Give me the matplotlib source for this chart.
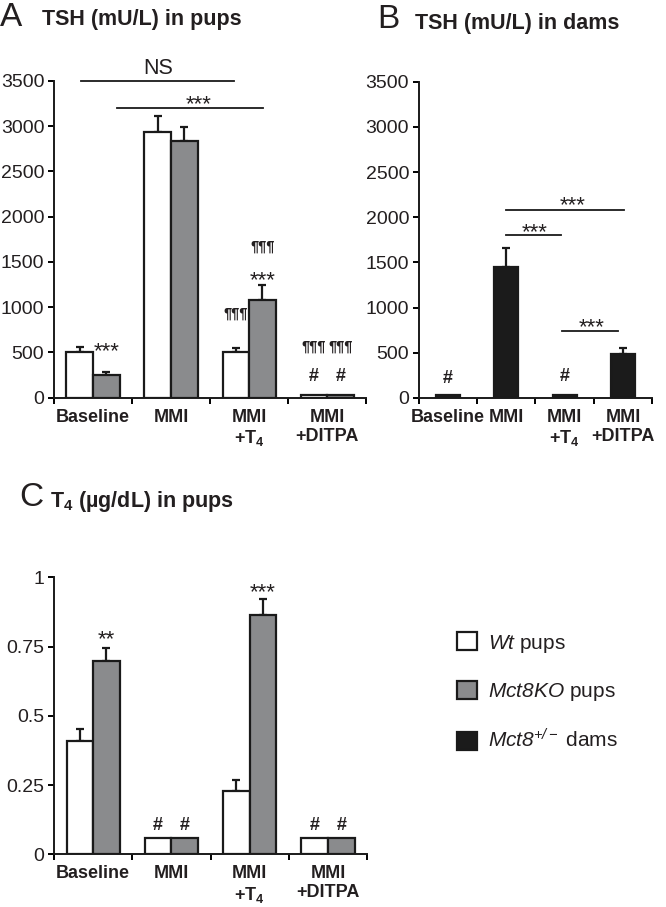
import matplotlib
matplotlib.use('Agg')
import matplotlib.pyplot as plt
import numpy as np
from matplotlib.patches import Patch

plt.rcParams['font.family'] = ['Liberation Sans', 'DejaVu Sans']
plt.rcParams['mathtext.fontset'] = 'custom'
plt.rcParams['mathtext.rm'] = 'Liberation Sans'
plt.rcParams['mathtext.it'] = 'Liberation Sans:italic'
plt.rcParams['mathtext.sf'] = 'Liberation Sans:italic'
plt.rcParams['mathtext.bf'] = 'Liberation Sans:bold'

categories = ['Baseline', 'MMI', 'MMI\n+T$_\\mathbf{4}$', 'MMI\n+DITPA']

tsh_pups_wt = [500, 2930, 505, 35]
tsh_pups_wt_err = [60, 180, 42, 0]
tsh_pups_ko = [250, 2830, 1080, 35]
tsh_pups_ko_err = [35, 160, 165, 0]

tsh_dams = [30, 1445, 30, 483]
tsh_dams_err = [0, 210, 0, 75]

t4_pups_wt = [0.41, 0.06, 0.228, 0.06]
t4_pups_wt_err = [0.042, 0, 0.04, 0]
t4_pups_ko = [0.697, 0.06, 0.865, 0.06]
t4_pups_ko_err = [0.049, 0, 0.058, 0]

WHITE = '#ffffff'
GRAY = '#8a8b8d'
BLACK = '#1b1b1b'
EDGE = '#1a1a1a'
TXT = '#231f20'


def style_axis(ax, ymax, yticks, yticklabels):
    n = len(categories)
    ax.set_xlim(-0.5, n - 0.5)
    ax.set_ylim(0, ymax)
    for s in ['top', 'right']:
        ax.spines[s].set_visible(False)
    for s in ['left', 'bottom']:
        ax.spines[s].set_linewidth(1.4)
        ax.spines[s].set_color(EDGE)
    ax.set_yticks(yticks)
    ax.set_yticklabels(yticklabels, fontsize=14, color=TXT)
    ax.tick_params(axis='y', direction='out', length=4, width=1.4, pad=3)
    ax.set_xticks(np.arange(n))
    ax.set_xticklabels(categories, fontsize=13, fontweight='bold', color=TXT,
                       linespacing=1.15)
    ax.tick_params(axis='x', which='major', length=0, pad=8)
    ax.set_xticks(np.arange(n + 1) - 0.5, minor=True)
    ax.tick_params(axis='x', which='minor', direction='out', length=4, width=1.4)


def draw_bars(ax, xs, vals, errs, color, width):
    ax.bar(xs, vals, width=width, color=color, edgecolor=EDGE, linewidth=1.6, zorder=3)
    for x, v, e in zip(xs, vals, errs):
        if e > 0:
            ax.errorbar([x], [v], yerr=[[0], [e]], fmt='none', ecolor=EDGE,
                        elinewidth=1.6, capsize=3, capthick=1.6, zorder=2)


def note(ax, x, y, s, size=11, weight='normal'):
    ax.text(x, y, s, ha='center', va='baseline', fontsize=size, fontweight=weight,
            color=TXT, clip_on=False)


def bracket(ax, x0, x1, y):
    ax.plot([x0, x1], [y, y], color=EDGE, linewidth=1.3, clip_on=False)


fig = plt.figure(figsize=(6.66, 9.07), dpi=100)
fig.set_facecolor('white')

x = np.arange(len(categories))
bw = 0.34
AST = 16
PIL = 10.5
HSH = 13

# Panel A
axA = fig.add_axes([0.0811, 0.5615, 0.4685, 0.3495])
draw_bars(axA, x - bw / 2, tsh_pups_wt, tsh_pups_wt_err, WHITE, bw)
draw_bars(axA, x + bw / 2, tsh_pups_ko, tsh_pups_ko_err, GRAY, bw)
style_axis(axA, 3500, np.arange(0, 3501, 500), [str(v) for v in range(0, 3501, 500)])
bracket(axA, -0.15, 1.81, 3500)
note(axA, 0.83, 3575, 'NS', size=15.5)
bracket(axA, 0.31, 2.18, 3202)
note(axA, 1.35, 3180, '***', size=AST)
note(axA, 0.17, 450, '***', size=AST)
note(axA, 1.83, 880, '¶¶¶', size=PIL, weight='bold')
note(axA, 2.17, 1620, '¶¶¶', size=PIL, weight='bold')
note(axA, 2.17, 1230, '***', size=AST)
note(axA, 2.83, 515, '¶¶¶', size=PIL, weight='bold')
note(axA, 3.17, 515, '¶¶¶', size=PIL, weight='bold')
note(axA, 2.83, 185, '#', size=HSH, weight='bold')
note(axA, 3.17, 185, '#', size=HSH, weight='bold')

# Panel B
axB = fig.add_axes([0.629, 0.5612, 0.35, 0.3487])
draw_bars(axB, x, tsh_dams, tsh_dams_err, BLACK, 0.41)
style_axis(axB, 3500, np.arange(0, 3501, 500), [str(v) for v in range(0, 3501, 500)])
bracket(axB, 1.0, 3.02, 2080)
note(axB, 2.14, 2070, '***', size=AST)
bracket(axB, 0.99, 1.94, 1800)
note(axB, 1.49, 1770, '***', size=AST)
bracket(axB, 1.95, 2.91, 744)
note(axB, 2.46, 720, '***', size=AST)
note(axB, 0, 166, '#', size=HSH, weight='bold')
note(axB, 2, 188, '#', size=HSH, weight='bold')

# Panel C
axC = fig.add_axes([0.0811, 0.0581, 0.470, 0.3054])
draw_bars(axC, x - bw / 2, t4_pups_wt, t4_pups_wt_err, WHITE, bw)
draw_bars(axC, x + bw / 2, t4_pups_ko, t4_pups_ko_err, GRAY, bw)
style_axis(axC, 1, [0, 0.25, 0.5, 0.75, 1], ['0', '0.25', '0.5', '0.75', '1'])
note(axC, 0.17, 0.755, '**', size=AST)
note(axC, 2.17, 0.925, '***', size=AST)
for xx in [0.83, 1.17, 2.83, 3.17]:
    note(axC, xx, 0.088, '#', size=HSH, weight='bold')

# panel titles
fig.text(0.0, 1 - 17 / 907, 'A', fontsize=24, va='center', ha='left', color=TXT)
fig.text(42 / 666, 1 - 20 / 907, 'TSH (mU/L) in pups', fontsize=15.5, fontweight='bold',
         va='center', ha='left', color=TXT)
fig.text(377 / 666, 1 - 19 / 907, 'B', fontsize=24, va='center', ha='left', color=TXT)
fig.text(415 / 666, 1 - 23 / 907, 'TSH (mU/L) in dams', fontsize=15.5, fontweight='bold',
         va='center', ha='left', color=TXT)
fig.text(19 / 666, 1 - 498 / 907, 'C', fontsize=24, va='center', ha='left', color=TXT)
fig.text(50 / 666, 1 - 501 / 907, 'T$_\\mathbf{4}$ (µg/dL) in pups', fontsize=15.5,
         fontweight='bold', va='center', ha='left', color=TXT)

handles = [Patch(facecolor=WHITE, edgecolor=EDGE, linewidth=1.6),
           Patch(facecolor=GRAY, edgecolor=EDGE, linewidth=1.6),
           Patch(facecolor=BLACK, edgecolor=EDGE, linewidth=1.6)]
labels = ['$\\mathsf{Wt}$ pups', '$\\mathsf{Mct8KO}$ pups',
          '$\\mathsf{Mct8}^{\\mathsf{+/-}}$ dams']
fig.legend(handles, labels, loc='upper left', bbox_to_anchor=(447 / 666, 1 - 622 / 907),
           frameon=False, fontsize=15, handlelength=0.95, handleheight=0.95,
           handletextpad=0.5, labelspacing=1.25, borderpad=0, labelcolor=TXT)

fig.savefig('out.png', dpi=100, facecolor='white')
